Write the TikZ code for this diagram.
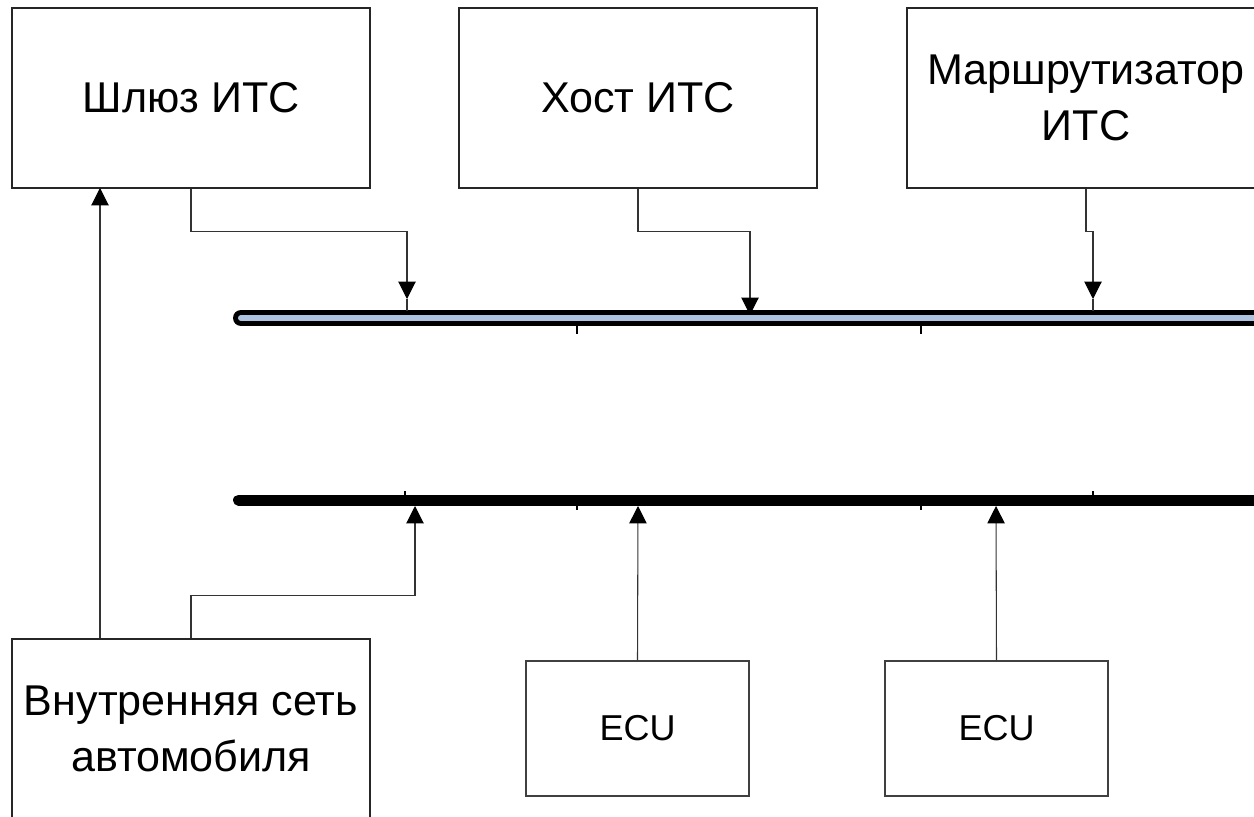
\documentclass[tikz,border=0pt]{standalone}
\usepackage{fontspec}
\setmainfont{Liberation Sans}
\usetikzlibrary{arrows.meta}
\definecolor{busblue}{HTML}{AEC3E0}
\begin{document}
\begin{tikzpicture}[x=0.75pt,y=-0.75pt,
  box/.style={draw=black!85, line width=0.9pt, inner sep=0pt,
    minimum width=268.5pt, minimum height=135pt, align=center,
    font=\fontsize{32.3}{42.5}\selectfont},
  ecubox/.style={draw=black!75, line width=0.8pt, inner sep=0pt,
    minimum width=167.25pt, minimum height=101.25pt,
    font=\fontsize{27}{32}\selectfont},
  conn/.style={draw=black!80, line width=0.8pt},
  tip/.style={-{Triangle[length=13pt,width=13pt,color=black]}},
  tick/.style={draw=black, line width=0.8pt}]
\useasboundingbox (0,0) rectangle (1254,817);
\clip (0,0) rectangle (1254,817);

% devices
\node[box] (gw)   at (191,98)  {Шлюз ИТС};
\node[box] (host) at (638,98)  {Хост ИТС};
\node[box] (rt)   at (1086,98) {Маршрутизатор\\ИТС};
\node[box] (car)  at (191,729) {Внутренняя сеть\\автомобиля};
\node[ecubox] (ecu1) at (637.5,728.5) {ECU};
\node[ecubox] (ecu2) at (996.5,728.5) {ECU};

% upper bus
\coordinate (ubL) at (241,318);
\coordinate (ubR) at (1275,318);
\draw[line width=12pt, line cap=round] (ubL) -- (ubR);
\draw[busblue, line width=4.5pt, line cap=round] (ubL) -- (ubR);
\draw[tick] (577,326) -- (577,334);
\draw[tick] (921,326) -- (921,334);

% lower bus
\coordinate (lbL) at (238.5,500);
\coordinate (lbR) at (1275,500);
\draw[line width=8.25pt, line cap=round] (lbL) -- (lbR);
\draw[tick] (405,491) -- (405,495);
\draw[tick] (577,505) -- (577,510);
\draw[tick] (921,505) -- (921,510);
\draw[tick] (1093,491) -- (1093,495);

% attachment points on the buses
\coordinate (ua1) at (407,299);  \coordinate (ut1) at (407,311);
\coordinate (ua2) at (750,315);
\coordinate (ua3) at (1093,299); \coordinate (ut3) at (1093,311);
\coordinate (la1) at (415,506);
\coordinate (la2) at (638,506);
\coordinate (la3) at (996,506);
\coordinate (gwin) at (100,188);

% links to the upper bus
\draw[conn,tip] (gw.south) -- ++(0,43) -| (ua1);
\draw[conn] (ua1) -- (ut1);
\draw[conn,tip] (host.south) -- ++(0,43) -| (ua2);
\draw[conn,tip] (rt.south) -- ++(0,43) -| (ua3);
\draw[conn] (ua3) -- (ut3);

% links to the lower bus
\draw[conn,tip] (car.north) -- ++(0,-43) -| (la1);
\draw[conn,tip] (ecu1.north) -- (la2);
\draw[conn,tip] (ecu2.north) -- (la3);

% vehicle network to gateway
\draw[conn,tip] (gwin |- car.north) -- (gwin);
\end{tikzpicture}
\end{document}
